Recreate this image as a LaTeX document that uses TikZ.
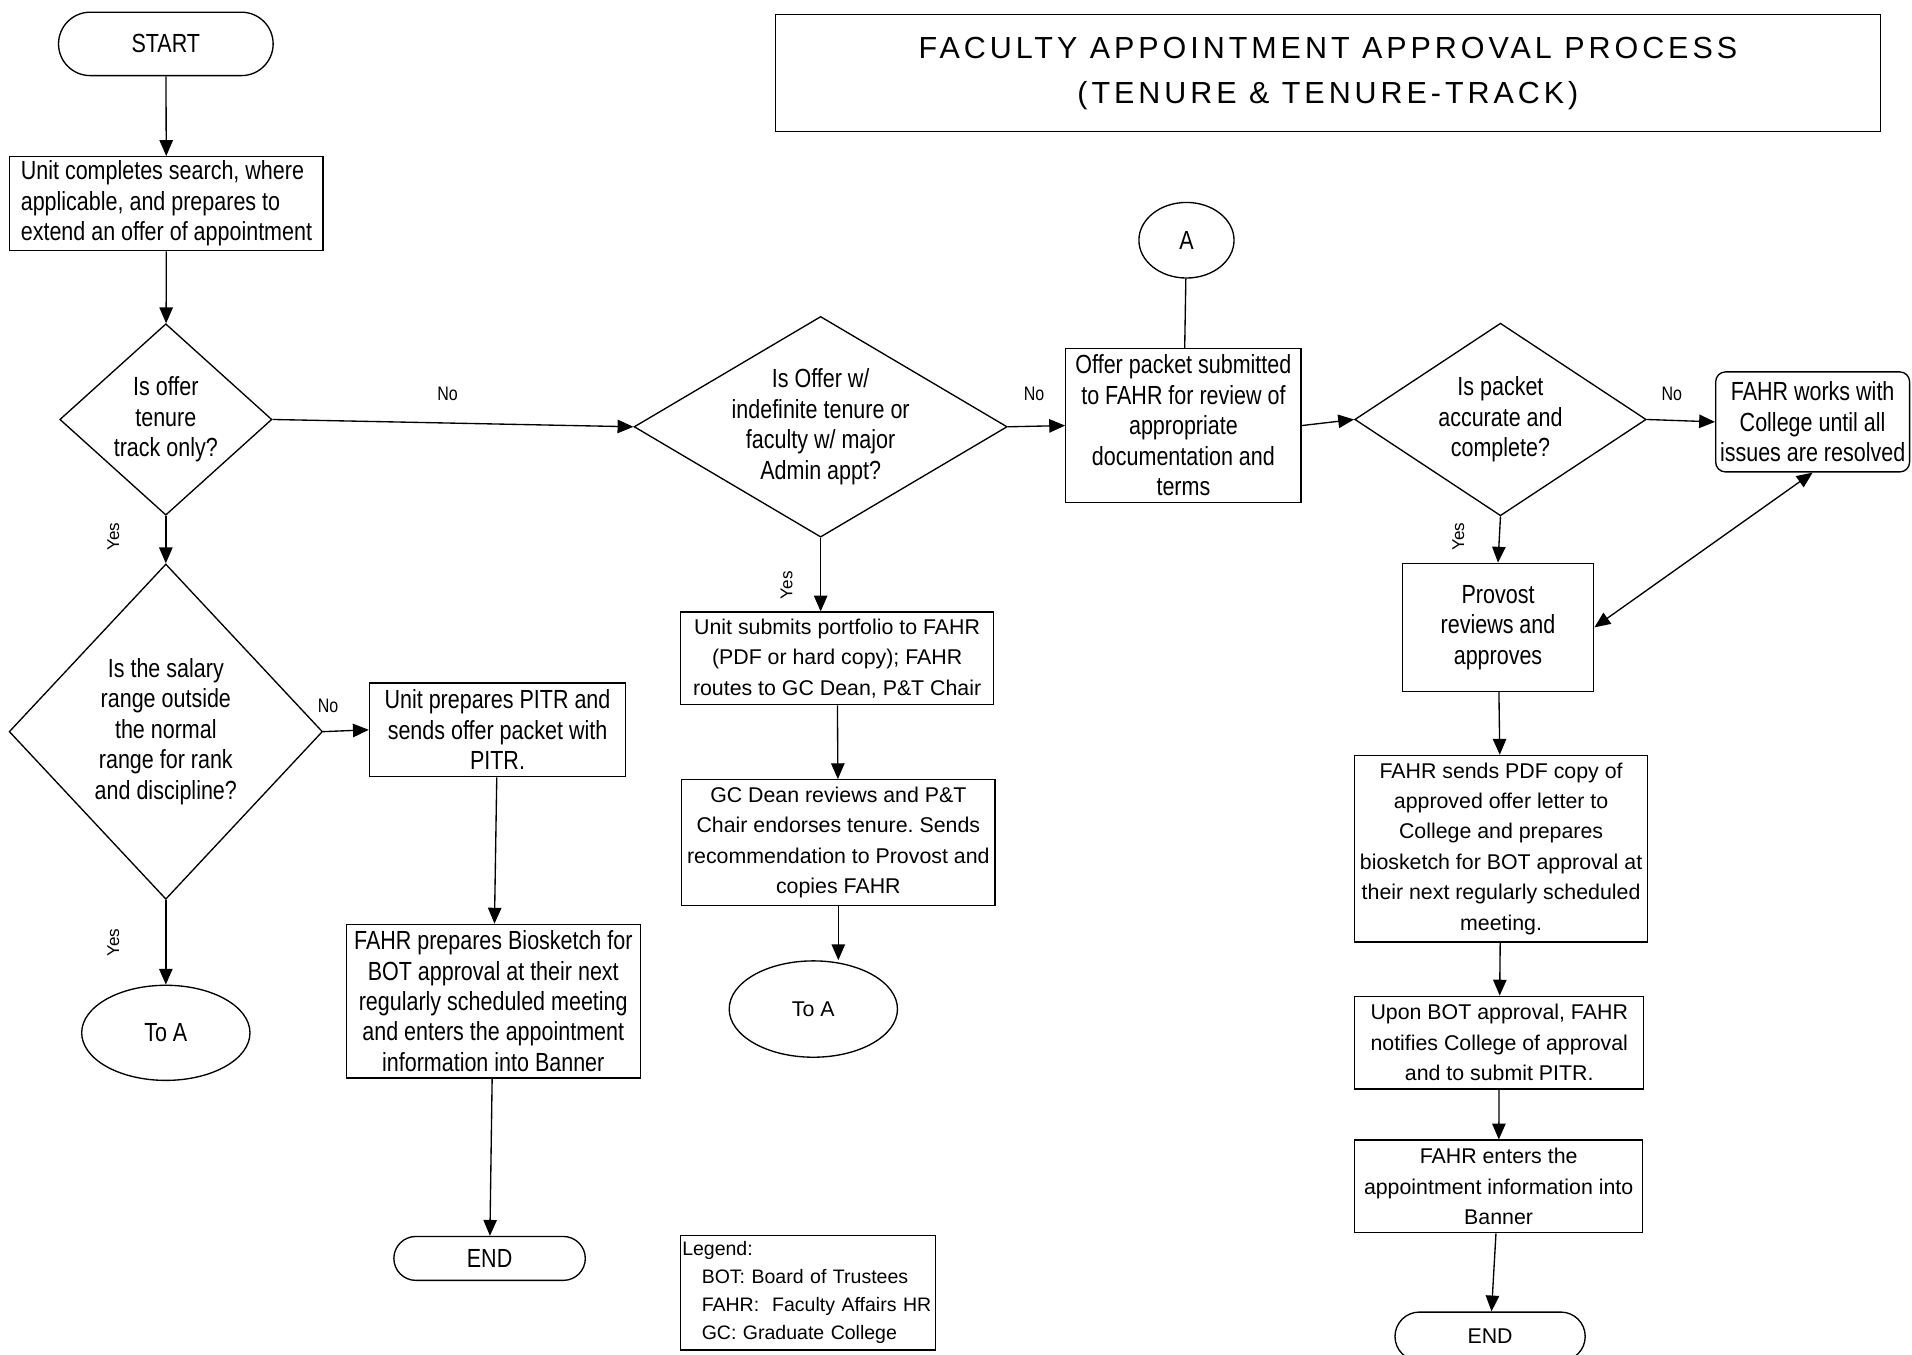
\documentclass[tikz,border=0pt]{standalone}
\usepackage{fontspec}
\setmainfont{Liberation Sans}
\newfontfamily\narrowfont[FakeStretch=0.82]{Liberation Sans}
\newfontfamily\titlefont[LetterSpace=13]{Liberation Sans}
\usepackage{tikz}
\usetikzlibrary{arrows,arrows.meta,shapes}
\frenchspacing

\tikzset{
    base/.style={draw, line width=1.1pt, align=center, inner sep=1pt},
    narrowtxt/.style={font=\narrowfont\fontsize{21.5}{25}\selectfont},
    widetxt/.style={font=\fontsize{17.5}{25}\selectfont},
    process/.style={base, rectangle, narrowtxt},
    wprocess/.style={base, rectangle, widetxt},
    decision/.style={base, diamond, inner sep=-4pt, narrowtxt},
    terminal/.style={base, rounded rectangle},
    joint/.style={base, ellipse},
    arr/.style={line width=1.1pt, -{Triangle[length=13pt,width=11pt]}},
    dbl/.style={line width=1.1pt, {Triangle[length=13pt,width=11pt]}-{Triangle[length=13pt,width=11pt]}},
    nolbl/.style={font=\narrowfont\fontsize{16}{18}\selectfont},
    yeslbl/.style={font=\fontsize{14}{16}\selectfont, rotate=90}
}

\begin{document}
\begin{tikzpicture}[x=1pt, y=-1pt]
        \useasboundingbox (0,0) rectangle (1568,1111);
        % left column
        \node[terminal, narrowtxt, minimum width=178, minimum height=52] (start) at (136,36) {START};
        \node[process, align=left, minimum width=257, minimum height=77] (search) at (136.5,167)
            {Unit completes search, where\\applicable, and prepares to\\extend an offer of appointment};
        \node[decision, aspect=1.1, minimum width=174, minimum height=157] (dTrack) at (136,344) {Is offer\\tenure\\track only?};
        \node[decision, aspect=0.93, minimum width=257, minimum height=275] (dSalary) at (136,600)
            {Is the salary\\range outside\\the normal\\range for rank\\and discipline?};
        \node[joint, narrowtxt, minimum width=138, minimum height=78] (toA1) at (136,847) {To A};
        \node[process, minimum width=210, minimum height=77] (pitr) at (408,598.5)
            {Unit prepares PITR and\\sends offer packet with\\PITR.};
        \node[process, minimum width=241, minimum height=126] (bio) at (404.5,821)
            {FAHR prepares Biosketch for\\BOT approval at their next\\regularly scheduled meeting\\and enters the appointment\\information into Banner};
        \node[terminal, narrowtxt, minimum width=159, minimum height=36] (end1) at (401.5,1032) {END};

        % middle column
        \node[decision, aspect=1.69, minimum width=306, minimum height=181] (dOffer) at (673,350)
            {Is Offer w/\\indefinite tenure or\\faculty w/ major\\Admin appt?};
        \node[wprocess, minimum width=257, minimum height=76] (portfolio) at (686.5,540)
            {Unit submits portfolio to FAHR\\(PDF or hard copy); FAHR\\routes to GC Dean, P\&T Chair};
        \node[wprocess, minimum width=257, minimum height=103] (gcdean) at (687.5,691)
            {GC Dean reviews and P\&T\\Chair endorses tenure. Sends\\recommendation to Provost and\\copies FAHR};
        \node[joint, widetxt, minimum width=138, minimum height=79] (toA2) at (667,827.5) {To A};
        \node[base, align=left, text width=206, inner sep=1.5pt, minimum height=94,
              font=\fontsize{16}{23}\selectfont] (legend) at (662.5,1060)
            {Legend:\\\hspace*{16pt}BOT: Board of Trustees\\\hspace*{16pt}FAHR:\ \ Faculty Affairs HR\\\hspace*{16pt}GC: Graduate College};

        % right part
        \node[base, minimum width=906, minimum height=96, font=\titlefont\fontsize{25}{37}\selectfont] (title) at (1089,60)
            {FACULTY APPOINTMENT APPROVAL PROCESS\\(TENURE \& TENURE-TRACK)};
        \node[joint, narrowtxt, minimum width=78, minimum height=62] (circA) at (973,197) {A};
        \node[process, minimum width=193, minimum height=126] (packet) at (970.5,349)
            {Offer packet submitted\\to FAHR for review of\\appropriate\\documentation and\\terms};
        \node[decision, aspect=1.5, minimum width=239, minimum height=158] (dPacket) at (1230.5,344)
            {Is packet\\accurate and\\complete?};
        \node[process, rounded corners=8pt, minimum width=159, minimum height=82] (works) at (1486.5,346)
            {FAHR works with\\College until all\\issues are resolved};
        \node[process, minimum width=157, minimum height=105] (provost) at (1228.5,514.5)
            {Provost\\reviews and\\approves};
        \node[wprocess, minimum width=240, minimum height=153] (sendpdf) at (1231,696)
            {FAHR sends PDF copy of\\approved offer letter to\\College and prepares\\biosketch for BOT approval at\\their next regularly scheduled\\meeting.};
        \node[wprocess, minimum width=237, minimum height=76] (upon) at (1229.5,855)
            {Upon BOT approval, FAHR\\notifies College of approval\\and to submit PITR.};
        \node[wprocess, minimum width=236, minimum height=76] (enters) at (1229,973)
            {FAHR enters the\\appointment information into\\Banner};
        \node[terminal, widetxt, minimum width=158, minimum height=40] (end2) at (1222,1096) {END};

        % branch labels
        \node[nolbl] (no1) at (367,323) {No};
        \node[nolbl] (no2) at (269,579) {No};
        \node[nolbl] (no3) at (848,323) {No};
        \node[nolbl] (no4) at (1371,323) {No};
        \node[yeslbl] (yes1) at (93,440) {Yes};
        \node[yeslbl] (yes2) at (93,773) {Yes};
        \node[yeslbl] (yes3) at (645,480) {Yes};
        \node[yeslbl] (yes4) at (1196,440) {Yes};

        \draw[arr] (start) -- (search);
        \draw[arr] (search) -- (dTrack);
        \draw[arr] (dTrack) -- (dSalary);
        \draw[arr] (dTrack.east) -- (dOffer.west);
        \draw[arr] (dSalary.east) -- (pitr.west);
        \draw[arr] (dSalary) -- (toA1);
        \draw[arr] (pitr) -- (bio);
        \draw[arr] (bio) -- (end1);
        \draw[arr] (dOffer.south) -- (dOffer.south |- portfolio.north);
        \draw[arr] (portfolio) -- (gcdean);
        \draw[arr] (gcdean.south) -- (gcdean.south |- toA2.north);
        \draw[arr] (dOffer.east) -- (packet.west);
        \draw[line width=1.1pt] (circA) -- (packet);
        \draw[arr] (packet.east) -- (dPacket.west);
        \draw[arr] (dPacket.east) -- (works.west);
        \draw[arr] (dPacket.south) -- (provost.north);
        \draw[dbl] (works.south) -- (provost.east);
        \draw[arr] (provost) -- (sendpdf);
        \draw[arr] (sendpdf) -- (upon);
        \draw[arr] (upon) -- (enters);
        \draw[arr] (enters) -- (end2);
\end{tikzpicture}
\end{document}
